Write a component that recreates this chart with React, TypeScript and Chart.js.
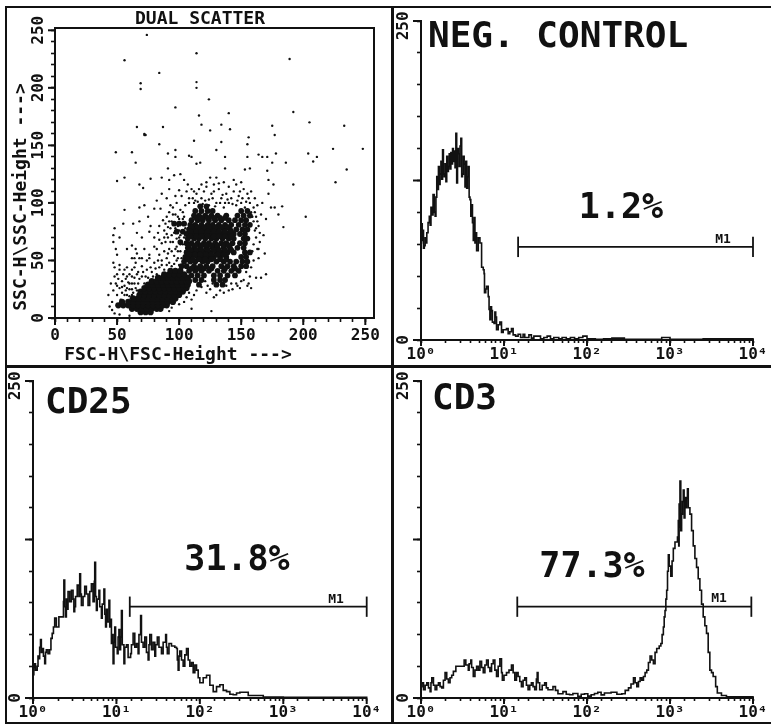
import React, { useEffect, useRef } from "react";
import { Chart, registerables } from "chart.js";

Chart.register(...registerables);

const INK = "#111111";
const MONO = '"DejaVu Sans Mono", monospace';

// ---------- Dual scatter (FSC-H, SSC-H) ----------
const scatterFar = [
  [74,246],[56,224],[114,230],[189,225],[84,213],[69,204],[69,199],[114,205],[114,200],[124,190],[97,183],[192,179],
  [116,176],[140,178],[118,168],[134,168],[141,164],[125,163],[66,166],[87,166],[205,170],[233,167],[175,167],[177,159],
  [156,157],[155,151],[112,154],[134,153],[84,151],[97,146],[91,143],[97,140],[49,144],[62,144],[65,135],[130,146],
  [137,140],[108,141],[110,140],[155,140],[164,142],[171,140],[178,143],[167,140],[224,147],[248,147],[204,143],[211,140],
  [208,136],[117,135],[114,134],[175,135],[186,135],[235,129],[171,128],[153,129],[157,130],[91,130],[137,130],[56,122],
  [50,119],[68,116],[71,113],[77,121],[226,118],[192,116],[202,88],[184,79],[180,90],[183,97],[177,96],[72,159],[73,159],[72,160],
];
const scatterLowHalo = [
  [43,20],[44,10],[45,30],[46,7],[46,14],[47,48],[47,24],[48,36],[48,44],[49,30],[50,20],[50,28],[50,38],[51,34],
  [52,26],[52,42],[52,46],[53,16],[54,32],[54,22],[55,38],[56,28],[57,34],[58,20],[58,44],[59,15],[59,31],[60,25],
  [60,38],[61,17],[62,30],[62,42],[63,22],[64,35],[65,26],[65,48],[66,18],[67,40],[67,30],[68,52],[69,24],[70,36],[70,45],
  [72,30],[72,60],[74,42],[75,35],[76,52],[78,40],[80,48],[82,38],[84,55],[84,44],[47,66],[47,72],[48,78],[49,60],[50,55],
  [52,70],[55,82],[58,60],[56,94],[62,63],[64,52],[65,60],[63,82],[66,74],[68,84],[68,96],[70,70],[72,98],[75,88],[76,75],
  [76,55],[77,80],[80,70],[80,95],[82,60],[85,95],[86,50],[87,85],[88,70],[48,4],[52,3],[60,2],[110,8],[126,6],[92,6],[94,9],
  [100,12],[104,14],[106,18],[108,22],[110,16],[112,20],[114,24],[118,27],[122,22],[128,18],[133,24],[138,28],[143,25],
  [66,38],[68,34],[71,40],[73,36],[77,44],[79,36],[81,43],[83,50],[86,46],[88,42],[90,46],[74,50],[70,52],[66,56],[62,52],
  [58,36],[56,42],[62,36],[64,44],[60,30],[56,20],[54,27],[58,26],[62,25],[64,30],[66,24],[62,20],[60,19],[57,24],
];
const scatterMidHalo = [
  [88,76],[89,82],[90,88],[91,70],[92,92],[92,60],[93,78],[94,84],[95,66],[95,96],[96,54],[96,74],[97,90],[98,62],[98,100],
  [99,80],[100,70],[100,86],[101,58],[101,94],[102,106],[103,64],[103,76],[104,88],[104,50],[105,98],[106,110],[90,104],
  [92,112],[86,108],[93,98],[97,106],[100,111],[108,104],[110,112],[112,100],[114,108],[116,112],[118,104],[120,110],
  [122,114],[124,103],[126,108],[128,116],[130,100],[132,112],[134,104],[136,118],[136,96],[138,108],[140,114],[140,100],
  [142,104],[144,120],[144,110],[146,98],[146,116],[148,106],[150,118],[150,100],[152,112],[153,96],[155,108],[156,104],
  [157,100],[158,110],[158,92],[160,84],[160,96],[161,76],[161,104],[162,70],[162,88],[163,60],[163,98],[164,52],[164,80],
  [165,66],[166,90],[167,100],[168,72],[169,56],[170,38],[170,86],[172,108],[174,96],[176,116],[172,120],[160,64],[158,44],
  [157,36],[160,50],[159,58],[156,30],[154,40],[150,32],[147,28],[142,30],[166,35],[162,35],[158,26],[122,118],[125,122],
  [130,122],[132,117],[128,110],[118,116],[112,110],[107,116],[104,120],[101,125],[92,120],[96,124],[86,122],[82,102],
  [84,80],[86,65],[88,58],[90,52],[92,48],[94,45],[98,50],[100,46],[84,68],[80,62],[83,74],
  [90,73],[91,79],[93,66],[94,72],[96,81],[97,60],[98,69],[99,88],[100,76],[101,64],[102,82],[103,92],[104,70],[105,58],
  [89,66],[92,84],[95,90],[97,78],[99,58],[101,72],[103,86],[105,78],[105,66],[91,56],[94,58],[96,47],[99,52],[102,52],
  [108,100],[111,104],[113,102],[115,101],[119,99],[121,102],[124,98],[127,104],[129,97],[133,100],[135,107],[137,100],
  [139,103],[143,99],[147,102],[149,110],[151,104],[154,101],[159,88],[161,92],[163,84],[165,74],[162,78],[164,60],
  [127,30],[123,28],[121,32],[125,25],[140,24],[136,22],[130,20],[146,30],[152,33],[155,28],[149,26],
];
const lowerCoreRows = [
  [5,[69,73,77]],
  [8,[62,66,70,74,78,82,85]],
  [11,[51,55,59,63,67,71,75,79,83,87,90]],
  [14,[54,59,63,67,71,75,79,83,87,91,95]],
  [17,[63,67,71,75,79,83,87,91,95,97]],
  [20,[68,72,76,80,84,88,92,96,100]],
  [23,[69,73,77,81,85,89,93,97,101,103]],
  [26,[72,76,80,84,88,92,96,100,104,106]],
  [29,[75,79,83,87,91,95,99,103,107]],
  [32,[78,82,86,90,94,98,102,106,108]],
  [35,[83,87,91,95,99,103,107]],
  [38,[88,92,96,100,104]],
  [41,[93,97,101]],
];
const upperCoreRows = [
  [97,[117,122]],
  [93,[113,118,123,127,150,155]],
  [89,[112,116,121,126,131,138,147,152,157]],
  [85,[110,115,119,124,129,134,140,145,150,154]],
  [81,[109,113,118,123,127,132,137,142,148,153,157]],
  [77,[108,112,117,121,126,131,136,141,146,151,155]],
  [73,[106,111,115,120,125,129,134,139,144,149,153]],
  [69,[107,112,116,121,126,130,135,140,144,152,155]],
  [65,[106,110,115,120,124,129,134,138,143,149,153]],
  [61,[107,112,117,122,127,131,136,141,147,152]],
  [57,[106,111,116,120,125,130,134,139,144,153,157]],
  [53,[105,110,115,119,124,128,133,138,150,154]],
  [49,[104,109,113,119,123,130,136,141,146,151,155]],
  [45,[102,106,112,117,122,127,134,139,144,150,154]],
  [41,[108,113,118,124,131,136,142,148]],
  [37,[110,115,120,128,133,139,145]],
  [33,[113,118,128,133,137]],
  [29,[116,130,135]],
  [82,[96,100,104]],
  [75,[98,103]],
  [66,[101]],
  [87,[114,118,123,128,133,137]],
  [79,[110,115,120,124,129,134,139]],
  [75,[109,114,118,123,128,132,137,142]],
  [71,[109,114,118,123,128,132,137,142]],
  [63,[108,113,118,122,126,131,136,140]],
  [59,[109,114,118,123,128,132,137,142]],
  [55,[108,113,117,122,126,131,136]],
  [51,[107,111,116,121,126,133,138]],
  [43,[110,115,120,126,137,145]],
];

// ---------- Histograms: [decade of fluorescence, events] ----------
const negControl = [
  [0,76],[.005,88],[.01,91],[.015,78],[.02,86],[.03,72],[.04,74],[.05,80],[.06,76],[.07,84],[.085,92],[.1,97],[.11,90],[.12,104],
  [.13,98],[.145,114],[.16,100],[.17,97],[.18,112],[.19,128],[.2,118],[.21,136],[.22,122],[.23,130],[.24,140],[.25,126],[.26,149],
  [.27,130],[.28,128],[.29,138],[.3,124],[.31,144],[.32,132],[.33,136],[.34,146],[.35,134],[.36,147],[.37,138],[.38,150],[.39,140],
  [.4,148],[.41,135],[.42,162],[.43,123],[.44,150],[.45,146],[.46,136],[.47,152],[.48,158],[.49,128],[.5,130],[.51,144],[.52,138],
  [.53,120],[.54,140],[.55,119],[.56,128],[.57,136],[.58,112],[.59,110],[.6,97],[.61,106],[.62,92],[.63,78],[.64,96],[.65,76],
  [.66,84],[.67,70],[.69,80],[.71,76],[.73,57],[.75,55],[.76,52],[.765,37],[.78,40],[.79,42],[.81,34],[.82,24],[.83,16],[.84,26],
  [.85,23],[.86,14],[.88,13],[.89,22],[.9,18],[.91,8],[.93,12],[.95,14],[.97,6],[.99,8],[1.03,9],[1.05,5],[1.07,6.5],[1.09,9],
  [1.11,4],[1.14,3],[1.17,4.5],[1.2,2],[1.23,4.5],[1.25,2],[1.3,4],[1.33,1.5],[1.36,3],[1.4,3],[1.44,1],[1.48,2],[1.52,3],[1.56,1],
  [1.6,2],[1.66,1],[1.7,2],[1.75,1],[1.8,2],[1.85,1],[1.9,2],[1.95,3],[2,1],[2.1,.5],[2.2,1],[2.3,1.5],[2.45,.5],[2.9,2],[3,.5],[3.4,1],[4,0],
];
const cd25 = [
  [0,18.3],[.01,24],[.02,27],[.03,22],[.05,25],[.06,33],[.07,31],[.08,40],[.09,46],[.1,36],[.11,39],[.125,33],[.14,27],[.15,36],[.16,38],
  [.18,35],[.2,38],[.215,47],[.23,51],[.245,56],[.26,63],[.28,56],[.31,64],[.36,64],[.365,76],[.37,93],[.38,72],[.39,64],[.4,78],[.41,70],
  [.42,84],[.44,76],[.46,85],[.48,78],[.49,68],[.5,72],[.51,80],[.53,89],[.55,80],[.56,98],[.57,82],[.58,73],[.6,80],[.62,88],[.64,82],
  [.66,73],[.68,84],[.7,90],[.72,76],[.735,92],[.74,107],[.75,80],[.76,69],[.77,78],[.79,85],[.8,72],[.82,63],[.83,74],[.85,86],[.86,66],
  [.87,56],[.88,70],[.89,60],[.91,77],[.92,56],[.93,62],[.94,43],[.95,50],[.96,27],[.97,44],[.98,56],[.99,40],[1.01,35],[1.02,48],[1.03,54],
  [1.04,38],[1.05,48],[1.06,69],[1.07,42],[1.09,27],[1.1,40],[1.12,42],[1.14,32],[1.17,35],[1.18,42],[1.2,51],[1.22,40],[1.24,43],[1.26,35],
  [1.27,50],[1.29,65],[1.3,44],[1.32,40],[1.34,48],[1.36,36],[1.38,30],[1.39,42],[1.4,50],[1.42,38],[1.44,44],[1.46,33],[1.47,42],[1.49,48],
  [1.51,40],[1.54,35],[1.56,44],[1.59,50],[1.6,40],[1.61,35],[1.63,43],[1.66,41],[1.7,40],[1.72,39],[1.73,30],[1.74,22],[1.75,33],[1.76,37],
  [1.78,30],[1.8,25],[1.82,34],[1.84,39],[1.86,30],[1.88,25],[1.9,28],[1.92,20],[1.94,26],[1.96,22],[1.98,16],[2,12],[2.04,16],[2.08,18],
  [2.12,10],[2.16,5],[2.2,9],[2.24,10.5],[2.28,6],[2.32,5],[2.36,3],[2.4,2.6],[2.44,4],[2.48,4.5],[2.58,2],[2.76,.8],[3,.5],[4,0],
];
const cd3 = [
  [0,9],[.01,12],[.03,6.5],[.05,10],[.07,12],[.09,8],[.11,5],[.12,12],[.13,16],[.15,10],[.17,6.5],[.19,10],[.21,12],[.23,9],[.25,8],[.27,14],
  [.29,20],[.31,15],[.33,12],[.35,16],[.37,18],[.39,21],[.42,25],[.51,25],[.52,30],[.54,26],[.57,22],[.58,27],[.6,30],[.61,24],[.63,17],[.65,22],
  [.67,25],[.69,22],[.71,29],[.73,24],[.75,20],[.77,26],[.79,30],[.81,24],[.83,21],[.85,27],[.87,30],[.89,22],[.91,17],[.93,25],[.95,31],[.97,20],
  [.98,14],[1,18],[1.03,20],[1.06,22],[1.09,26],[1.11,20],[1.13,14],[1.15,20],[1.17,17],[1.19,13],[1.21,9],[1.23,14],[1.25,16],[1.27,10],[1.29,6.5],
  [1.31,10],[1.33,12],[1.35,9],[1.37,6.5],[1.39,15],[1.4,20],[1.41,12],[1.43,6.5],[1.46,10],[1.49,12],[1.51,8],[1.53,6.5],[1.59,9],[1.62,6],[1.65,3.4],
  [1.71,5],[1.75,3],[1.79,2.6],[1.83,3.5],[1.89,1.3],[1.93,3],[1.97,3.4],[2.01,1.5],[2.05,2.6],[2.09,3.5],[2.13,4.5],[2.17,2.5],[2.21,4],[2.29,4.5],
  [2.36,3],[2.42,3.4],[2.46,6],[2.5,8],[2.53,11],[2.56,16],[2.58,12],[2.6,9],[2.62,13],[2.64,16],[2.66,14],[2.68,17],[2.7,20],[2.72,22],[2.74,28],
  [2.76,33],[2.78,30],[2.8,27],[2.82,36],[2.84,39],[2.87,41],[2.89,43],[2.905,50],[2.92,56],[2.93,64],[2.94,69],[2.95,78],[2.96,85],[2.97,100],[2.98,113],
  [2.99,104],[3.01,96],[3.025,108],[3.04,118],[3.06,123],[3.09,127],[3.1,140],[3.105,120],[3.11,153],[3.115,135],[3.12,171],[3.13,132],[3.14,145],[3.15,155],
  [3.16,164],[3.17,142],[3.18,158],[3.19,150],[3.2,158],[3.21,165],[3.22,150],[3.24,145],[3.26,132],[3.28,120],[3.3,110],[3.32,103],[3.34,94],[3.36,85],
  [3.38,74],[3.4,64],[3.42,57],[3.44,51],[3.46,36],[3.48,22],[3.5,20],[3.52,17],[3.55,9],[3.57,4],[3.62,2],[3.68,1],[4,0],
];

// Marker M1: [start decade, end decade, events]
const markerNeg = [1.17, 4, 73];
const markerCd25 = [1.16, 4, 72];
const markerCd3 = [1.16, 3.98, 72];
const decadeLabels = ["10⁰", "10¹", "10²", "10³", "10⁴"];

const notesPlugin = {
  id: "notes",
  afterDraw(chart: any) {
    const o = chart.options.plugins.notes;
    const { ctx, chartArea, scales } = chart;
    ctx.save();
    if (o.box) {
      ctx.strokeStyle = INK;
      ctx.lineWidth = 2;
      ctx.strokeRect(chartArea.left, chartArea.top, chartArea.right - chartArea.left, chartArea.bottom - chartArea.top);
    }
    // longer major ticks, placed through the axes
    ctx.strokeStyle = INK;
    ctx.lineWidth = 2;
    for (const v of o.longX || []) {
      const px = scales.x.getPixelForValue(v);
      ctx.beginPath();
      ctx.moveTo(px, chartArea.bottom);
      ctx.lineTo(px, chartArea.bottom + o.lenX);
      ctx.stroke();
    }
    for (const v of o.longY || []) {
      const py = scales.y.getPixelForValue(v);
      ctx.beginPath();
      ctx.moveTo(chartArea.left, py);
      ctx.lineTo(chartArea.left - o.lenY, py);
      ctx.stroke();
    }
    ctx.fillStyle = INK;
    ctx.textBaseline = "alphabetic";
    for (const n of o.items || []) {
      ctx.save();
      ctx.font = n.font;
      ctx.textAlign = n.align || "left";
      ctx.translate(n.x - o.left, n.y - o.top);
      if (n.rot) ctx.rotate(n.rot);
      ctx.fillText(n.text, 0, 0);
      ctx.restore();
    }
    ctx.restore();
  },
};

function fitPanel(w: number, h: number, c: any) {
  return {
    padding: { left: 0, top: c.plotTop - c.top, right: c.left + w - c.plotRight, bottom: 0 },
    yWidth: c.plotLeft - c.left,
    xHeight: c.top + h - c.plotBottom,
  };
}

function Panel({ cfg }: { cfg: any }) {
  const ref = useRef<HTMLCanvasElement>(null);
  useEffect(() => {
    const chart = new Chart(ref.current as HTMLCanvasElement, cfg.build());
    return () => chart.destroy();
  }, [cfg]);
  return (
    <canvas
      ref={ref}
      width={cfg.w}
      height={cfg.h}
      style={{ position: "absolute", left: cfg.left, top: cfg.top, width: cfg.w, height: cfg.h }}
    />
  );
}

function histogram(c: any, data: number[][], marker: number[], notes: any[]) {
  const f = fitPanel(c.w, c.h, c);
  const [m0, m1, my] = marker;
  const capLow = my - 8;
  const capHigh = my + 8;
  const line = (pts: number[][], bw: number, stepped: any) => ({
    type: "line",
    data: pts.map(([d, y]) => ({ x: Math.pow(10, d), y })),
    borderColor: INK,
    borderWidth: bw,
    pointRadius: 0,
    tension: 0,
    stepped,
    fill: false,
    clip: false,
  });
  return {
    type: "line",
    data: {
      datasets: [
        line(data, 1.6, true),
        line([[m0, my], [m1, my]], 1.8, false),
        line([[m0, capLow], [m0, capHigh]], 1.8, false),
        line([[m1, capLow], [m1, capHigh]], 1.8, false),
      ],
    },
    options: {
      animation: false,
      responsive: false,
      layout: { padding: f.padding },
      plugins: {
        legend: { display: false },
        tooltip: { enabled: false },
        notes: { left: c.left, top: c.top, items: notes, longX: [1, 10, 100, 1000, 10000], lenX: 6, longY: [0, 125, 250], lenY: 8 },
      },
      scales: {
        x: {
          type: "logarithmic",
          min: 1,
          max: 10000,
          afterFit: (s: any) => { s.height = f.xHeight; },
          border: { color: INK, width: 2 },
          grid: { drawOnChartArea: false, color: INK, tickLength: 3, tickWidth: 1.6 },
          ticks: {
            autoSkip: false,
            maxRotation: 0,
            minRotation: 0,
            padding: 2,
            color: INK,
            font: { family: MONO, size: 16, weight: "bold" },
            callback: (v: any) => {
              const e = Math.log10(v);
              return Math.abs(e - Math.round(e)) < 1e-9 ? decadeLabels[Math.round(e)] : "";
            },
          },
        },
        y: {
          type: "linear",
          min: 0,
          max: 250,
          afterFit: (s: any) => { s.width = f.yWidth; },
          border: { color: INK, width: 2 },
          grid: { drawOnChartArea: false, color: INK, tickLength: 4, tickWidth: 1.6 },
          ticks: {
            stepSize: 25,
            autoSkip: false,
            minRotation: 90,
            maxRotation: 90,
            crossAlign: "center",
            padding: -6,
            color: INK,
            font: { family: MONO, size: 16, weight: "bold" },
            callback: (v: any) => (v === 0 ? "0" : v === 250 ? "250 " : ""),
          },
        },
      },
    },
  };
}

const BIG = `bold 36px ${MONO}`;
const PCT = `bold 35px ${MONO}`;
const SMALL = `bold 13px ${MONO}`;

const scatterCfg: any = { left: 0, top: 0, w: 390, h: 364, plotLeft: 55, plotRight: 374, plotTop: 28, plotBottom: 318 };
scatterCfg.build = () => {
  const f = fitPanel(scatterCfg.w, scatterCfg.h, scatterCfg);
  const toPts = (a: number[][]) => a.map(([x, y]) => ({ x, y }));
  const fromRows = (rows: any[]) => rows.flatMap(([y, xs]: any) => xs.map((x: number) => ({ x, y })));
  const ds = (data: any[], r: number) => ({ type: "scatter", data, pointRadius: r, pointBorderWidth: 0, backgroundColor: INK, borderColor: INK });
  const tickFont = { family: MONO, size: 16, weight: "bold" };
  const majors = [0, 50, 100, 150, 200, 250];
  return {
    type: "scatter",
    data: {
      datasets: [
        ds(toPts(scatterFar), 1.2),
        ds(toPts(scatterLowHalo), 1.2),
        ds(toPts(scatterMidHalo), 1.2),
        ds(fromRows(upperCoreRows), 2.9),
        ds(fromRows(lowerCoreRows), 3.1),
      ],
    },
    options: {
      animation: false,
      responsive: false,
      layout: { padding: f.padding },
      plugins: {
        legend: { display: false },
        tooltip: { enabled: false },
        notes: {
          left: 0,
          top: 0,
          box: true,
          longX: majors,
          lenX: 7,
          longY: majors,
          lenY: 7,
          items: [
            { text: "DUAL SCATTER", x: 200, y: 24, font: `bold 18px ${MONO}`, align: "center" },
            { text: "FSC-H\\FSC-Height --->", x: 178, y: 360, font: `bold 18px ${MONO}`, align: "center" },
            { text: "SSC-H\\SSC-Height --->", x: 26, y: 197, font: `bold 18px ${MONO}`, align: "center", rot: -Math.PI / 2 },
          ],
        },
      },
      scales: {
        x: {
          type: "linear",
          min: 0,
          max: 257,
          afterFit: (s: any) => { s.height = f.xHeight; },
          border: { color: INK, width: 2 },
          grid: { drawOnChartArea: false, color: INK, tickLength: 4, tickWidth: 1.6 },
          ticks: {
            stepSize: 10,
            includeBounds: false,
            autoSkip: false,
            maxRotation: 0,
            minRotation: 0,
            padding: 4,
            color: INK,
            font: tickFont,
            callback: (v: any) => (v % 50 === 0 ? String(v) : ""),
          },
        },
        y: {
          type: "linear",
          min: 0,
          max: 252,
          afterFit: (s: any) => { s.width = f.yWidth; },
          border: { color: INK, width: 2 },
          grid: { drawOnChartArea: false, color: INK, tickLength: 4, tickWidth: 1.6 },
          ticks: {
            stepSize: 10,
            includeBounds: false,
            autoSkip: false,
            minRotation: 90,
            maxRotation: 90,
            crossAlign: "center",
            padding: -2,
            color: INK,
            font: tickFont,
            callback: (v: any) => (v % 50 === 0 ? String(v) : ""),
          },
        },
      },
    },
  };
};

const negCfg: any = { left: 395, top: 8, w: 376, h: 356, plotLeft: 421, plotRight: 753, plotTop: 21, plotBottom: 340 };
negCfg.build = () =>
  histogram(negCfg, negControl, markerNeg, [
    { text: "NEG. CONTROL", x: 428, y: 47, font: BIG },
    { text: "1.2%", x: 621, y: 218, font: PCT, align: "center" },
    { text: "M1", x: 723, y: 243, font: SMALL, align: "center" },
  ]);

const cd25Cfg: any = { left: 8, top: 368, w: 383, h: 354, plotLeft: 33, plotRight: 366.7, plotTop: 381, plotBottom: 698 };
cd25Cfg.build = () =>
  histogram(cd25Cfg, cd25, markerCd25, [
    { text: "CD25", x: 45, y: 413, font: BIG },
    { text: "31.8%", x: 237, y: 570, font: PCT, align: "center" },
    { text: "M1", x: 336, y: 603, font: SMALL, align: "center" },
  ]);

const cd3Cfg: any = { left: 395, top: 368, w: 376, h: 354, plotLeft: 421, plotRight: 753, plotTop: 381, plotBottom: 698 };
cd3Cfg.build = () =>
  histogram(cd3Cfg, cd3, markerCd3, [
    { text: "CD3", x: 432, y: 409, font: BIG },
    { text: "77.3%", x: 592, y: 577, font: PCT, align: "center" },
    { text: "M1", x: 719, y: 602, font: SMALL, align: "center" },
  ]);

Chart.register(notesPlugin as any);

const frame = [
  { left: 5, top: 6, width: 766, height: 2 },
  { left: 5, top: 6, width: 2, height: 718 },
  { left: 391, top: 6, width: 3, height: 718 },
  { left: 5, top: 365, width: 766, height: 3 },
  { left: 5, top: 722, width: 766, height: 2 },
];

export default function App() {
  return (
    <div style={{ position: "absolute", left: 0, top: 0, width: 771, height: 725, background: "#fff", overflow: "hidden", filter: "blur(0.45px)" }}>
      {frame.map((f, i) => (
        <div key={i} style={{ position: "absolute", background: INK, ...f }} />
      ))}
      {[scatterCfg, negCfg, cd25Cfg, cd3Cfg].map((c, i) => (
        <Panel key={i} cfg={c} />
      ))}
    </div>
  );
}
